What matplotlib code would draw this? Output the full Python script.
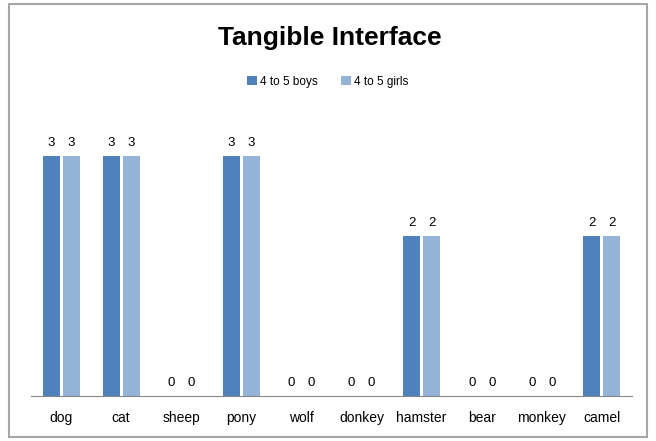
import numpy as np
import matplotlib.pyplot as plt
from matplotlib.patches import Rectangle

# chart data
animals = ['dog', 'cat', 'sheep', 'pony', 'wolf', 'donkey', 'hamster', 'bear', 'monkey', 'camel']
boys = [3, 3, 0, 3, 0, 0, 2, 0, 0, 2]
girls = [3, 3, 0, 3, 0, 0, 2, 0, 0, 2]
series_names = ['4 to 5 boys', '4 to 5 girls']

plt.rcParams['font.family'] = ['Liberation Sans', 'DejaVu Sans']

fig = plt.figure(figsize=(6.56, 4.41), dpi=100)
ax = fig.add_axes([31 / 656, 45 / 441, 601 / 656, 280 / 441])

x = np.arange(len(animals))
w = 0.283
b1 = ax.bar(x - 0.167, boys, w, color='#4F81BD', label=series_names[0])
b2 = ax.bar(x + 0.167, girls, w, color='#95B3D7', label=series_names[1])

# value labels
for bars in (b1, b2):
    for bar in bars:
        h = bar.get_height()
        ax.text(bar.get_x() + bar.get_width() / 2, h + 0.09, f'{h:g}',
                ha='center', va='bottom', fontsize=9.5)

ax.set_xlim(-0.5, len(animals) - 0.5)
ax.set_ylim(0, 3.5)
ax.set_xticks(x)
ax.set_xticklabels(animals, fontsize=10)
ax.tick_params(axis='x', length=0, pad=11)
ax.set_yticks([])
for s in ['top', 'right', 'left']:
    ax.spines[s].set_visible(False)
ax.spines['bottom'].set_color('#868686')

fig.text(0.503, 0.913, 'Tangible Interface', ha='center', va='center',
         fontsize=19, fontweight='bold')
fig.legend(handles=[b1, b2], loc='center', bbox_to_anchor=(0.5, 0.814),
           ncol=2, frameon=False, fontsize=8.5, handlelength=0.8,
           handleheight=0.8, handletextpad=0.3, columnspacing=2.0)

# outer chart border
fig.patches.append(Rectangle((9 / 656, 4 / 441), 638 / 656, 433 / 441,
                             transform=fig.transFigure, fill=False,
                             edgecolor='#A6A6A6', linewidth=1.5))

fig.savefig('out.png', dpi=100)
